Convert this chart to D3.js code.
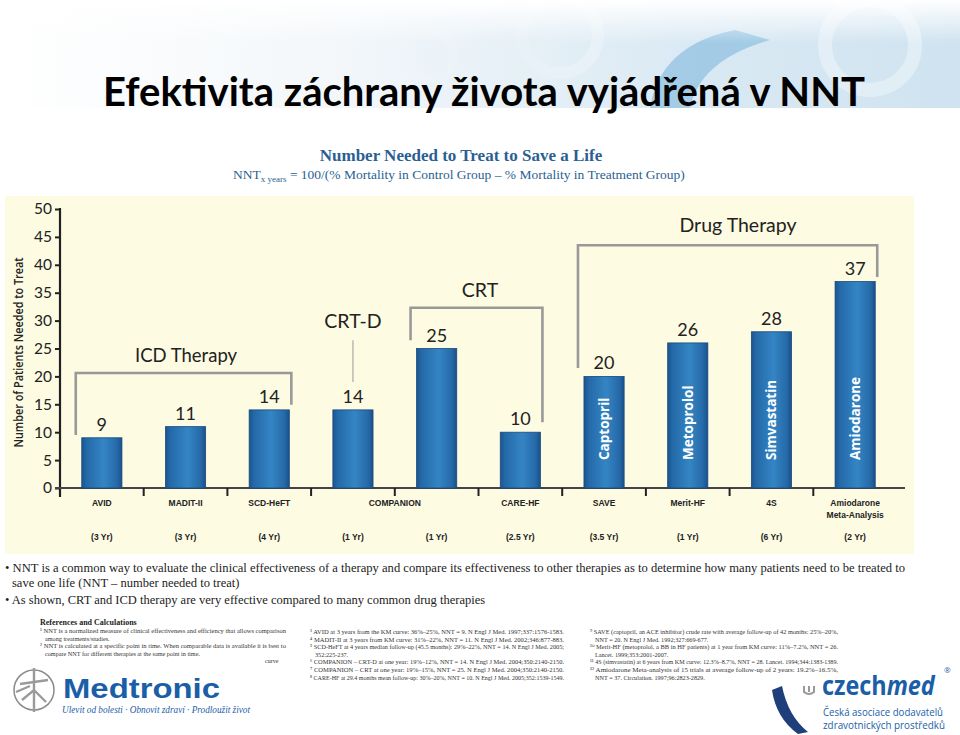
<!DOCTYPE html>
<html>
<head>
<meta charset="utf-8">
<script src="https://cdn.jsdelivr.net/npm/d3@7/dist/d3.min.js"></script>
<style>
  html, body { margin: 0; padding: 0; background: #ffffff; }
  svg { display: block; }
</style>
</head>
<body>
<svg id="chart" width="960" height="735"></svg>
<script>
// ---------- DATA ----------
const categories = ["AVID", "MADIT-II", "SCD-HeFT", "COMPANION CRT-D", "COMPANION CRT", "CARE-HF", "SAVE", "Merit-HF", "4S", "Amiodarone Meta-Analysis"];
const nntValues = [9, 11, 14, 14, 25, 10, 20, 26, 28, 37];
const durations = ["(3 Yr)", "(3 Yr)", "(4 Yr)", "(1 Yr)", "(1 Yr)", "(2.5 Yr)", "(3.5 Yr)", "(1 Yr)", "(6 Yr)", "(2 Yr)"];
const drugNames = ["", "", "", "", "", "", "Captopril", "Metoprolol", "Simvastatin", "Amiodarone"];
const yTicks = [0, 5, 10, 15, 20, 25, 30, 35, 40, 45, 50];
// axis labels: text lines and the category indexes they sit under
const xLabelTexts = [["AVID"], ["MADIT-II"], ["SCD-HeFT"], ["COMPANION"], ["CARE-HF"], ["SAVE"], ["Merit-HF"], ["4S"], ["Amiodarone", "Meta-Analysis"]];
const xLabelSpans = [[0], [1], [2], [3, 4], [5], [6], [7], [8], [9]];
// bracket groups (first index, last index, label)
const groupLabels = ["ICD Therapy", "CRT", "Drug Therapy"];
const groupSpans = [[0, 2], [4, 5], [6, 9]];
// bracket heights in NNT units: top, left foot, right foot, label baseline
const groupLevels = [[20.6, 9.5, 14.9, 22.6], [32.3, 26.5, 11.8, 34.2], [43.5, 21.5, 37.8, 45.9]];
const crtdLabel = "CRT-D";
const crtdLevels = [19, 26.5, 28.7];

const titleText = "Efektivita záchrany života vyjádřená v NNT";
const subtitleText = "Number Needed to Treat to Save a Life";
const yAxisTitle = "Number of Patients Needed to Treat";
const bulletLines = [
  "• NNT is a common way to evaluate the clinical effectiveness of a therapy and compare its effectiveness to other therapies as to determine how many patients need to be treated to",
  "save one life (NNT – number needed to treat)",
  "• As shown, CRT and ICD therapy are very effective compared to many common drug therapies"
];
const refsLeft = [
  "¹ NNT is a normalized measure of clinical effectiveness and efficiency that allows comparison",
  "  among treatments/studies.",
  "² NNT is calculated at a specific point in time. When comparable data is available it is best to",
  "  compare NNT for different therapies at the same point in time."
];
const refsMid = [
  "³ AVID at 3 years from the KM curve: 36%–25%, NNT = 9. N Engl J Med. 1997;337:1576-1583.",
  "⁴ MADIT-II at 3 years from KM curve: 31%–22%, NNT = 11. N Engl J Med. 2002;346:877-883.",
  "⁵ SCD-HeFT at 4 years median follow-up (45.5 months): 29%–22%, NNT = 14. N Engl J Med. 2005;",
  "  352:225-237.",
  "⁶ COMPANION – CRT-D at one year: 19%–12%, NNT = 14. N Engl J Med. 2004;350:2140-2150.",
  "⁷ COMPANION – CRT at one year: 19%–15%, NNT = 25. N Engl J Med. 2004;350:2140-2150.",
  "⁸ CARE-HF at 29.4 months mean follow-up: 30%–20%, NNT = 10. N Engl J Med. 2005;352:1539-1549."
];
const refsRight = [
  "⁹ SAVE (captopril, an ACE inhibitor) crude rate with average follow-up of 42 months: 25%–20%,",
  "  NNT = 20. N Engl J Med. 1992;327:669-677.",
  "¹⁰ Merit-HF (metoprolol, a BB in HF patients) at 1 year from KM curve: 11%–7.2%, NNT = 26.",
  "  Lancet. 1999;353:2001-2007.",
  "¹¹ 4S (simvastatin) at 6 years from KM curve: 12.3%–8.7%, NNT = 28. Lancet. 1994;344:1383-1389.",
  "¹² Amiodarone Meta-analysis of 15 trials at average follow-up of 2 years: 19.2%–16.5%,",
  "  NNT = 37. Circulation. 1997;96:2823-2829."
];

// ---------- SETUP ----------
const svg = d3.select("#chart");
const defs = svg.append("defs");

const hdr = defs.append("linearGradient").attr("id", "hdr").attr("x1", 0).attr("x2", 1).attr("y1", 0).attr("y2", 0);
hdr.append("stop").attr("offset", "0%").attr("stop-color", "#ffffff");
hdr.append("stop").attr("offset", "35%").attr("stop-color", "#f3f7fa");
hdr.append("stop").attr("offset", "70%").attr("stop-color", "#dbeaf4");
hdr.append("stop").attr("offset", "100%").attr("stop-color", "#cfe3f0");
const hdrV = defs.append("linearGradient").attr("id", "hdrV").attr("x1", 0).attr("x2", 0).attr("y1", 0).attr("y2", 1);
hdrV.append("stop").attr("offset", "0%").attr("stop-color", "#ffffff").attr("stop-opacity", 1);
hdrV.append("stop").attr("offset", "40%").attr("stop-color", "#ffffff").attr("stop-opacity", 0);

const barGrad = defs.append("linearGradient").attr("id", "barGrad").attr("x1", 0).attr("x2", 1).attr("y1", 0).attr("y2", 0);
[["0%", "#1b5490"], ["12%", "#2469a8"], ["55%", "#3485c4"], ["88%", "#2669a8"], ["100%", "#1a5089"]]
  .forEach(([o, c]) => barGrad.append("stop").attr("offset", o).attr("stop-color", c));

// header band
svg.append("rect").attr("x", 0).attr("y", 0).attr("width", 960).attr("height", 108).attr("fill", "url(#hdr)");
const deco = svg.append("g").attr("fill", "none");
deco.append("path").attr("d", "M650,108 Q660,45 735,30 L770,40 Q700,60 690,108 Z").attr("fill", "#7fb8dc").attr("opacity", 0.6);
deco.append("circle").attr("cx", 560).attr("cy", 35).attr("r", 38).attr("stroke", "#e8f1f7").attr("stroke-width", 12).attr("opacity", 0.8);
deco.append("circle").attr("cx", 870).attr("cy", 45).attr("r", 45).attr("stroke", "#e6f0f7").attr("stroke-width", 14).attr("opacity", 0.8);
deco.append("circle").attr("cx", 430).attr("cy", 55).attr("r", 24).attr("stroke", "#eef4f8").attr("stroke-width", 9).attr("opacity", 0.8);
svg.append("rect").attr("x", 0).attr("y", 0).attr("width", 960).attr("height", 108).attr("fill", "url(#hdrV)");

svg.append("text").attr("x", 484).attr("y", 106).attr("text-anchor", "middle")
  .attr("font-family", "Lato, 'Open Sans', sans-serif").attr("font-weight", "bold").attr("font-size", 40)
  .attr("textLength", 762).attr("lengthAdjust", "spacingAndGlyphs")
  .attr("fill", "#000").text(titleText);

// subtitle
svg.append("text").attr("x", 461).attr("y", 161).attr("text-anchor", "middle")
  .attr("font-family", "'Liberation Serif', 'DejaVu Serif', serif").attr("font-weight", "bold").attr("font-size", 17)
  .attr("fill", "#2b5f93").text(subtitleText);
const formula = svg.append("text").attr("x", 233).attr("y", 179)
  .attr("font-family", "'Liberation Serif', 'DejaVu Serif', serif").attr("font-size", 13.5).attr("fill", "#2b5f93");
formula.append("tspan").text("NNT");
formula.append("tspan").attr("font-size", 9).attr("dy", 3).text("x years");
formula.append("tspan").attr("dy", -3).text(" = 100/(% Mortality in Control Group – % Mortality in Treatment Group)");

// chart panel
svg.append("rect").attr("x", 5).attr("y", 196).attr("width", 909).attr("height", 358).attr("fill", "#fdfbe2");

// scales
const y = d3.scaleLinear().domain([0, 50]).range([488, 209]);
const x = d3.scaleBand().domain(categories).range([60, 897]).paddingInner(0.52).paddingOuter(0.26);
const bw = x.bandwidth();
const cx = i => x(categories[i]) + bw / 2;

// y axis
const yAxis = svg.append("g").attr("transform", "translate(60,0)")
  .call(d3.axisLeft(y).tickValues(yTicks).tickSize(5).tickPadding(3));
yAxis.select(".domain").remove();
yAxis.selectAll(".tick line").attr("stroke", "#222").attr("stroke-width", 2);
yAxis.selectAll(".tick text").attr("font-family", "Lato, 'Open Sans', sans-serif").attr("font-size", 15.5).attr("fill", "#222");
svg.append("line").attr("x1", 60).attr("x2", 60).attr("y1", y(50) - 1).attr("y2", 497).attr("stroke", "#222").attr("stroke-width", 2.2);

// x axis
svg.append("line").attr("x1", 55).attr("x2", 905).attr("y1", y(0)).attr("y2", y(0)).attr("stroke", "#444").attr("stroke-width", 2);
const boundaries = categories.slice(1).map(c => x(c) - (x.step() - bw) / 2);
svg.append("g").selectAll("line").data(boundaries).join("line")
  .attr("x1", d => d).attr("x2", d => d).attr("y1", y(0)).attr("y2", y(0) + 8)
  .attr("stroke", "#222").attr("stroke-width", 2);

// y title
svg.append("text").attr("transform", `translate(23,${(y(50) + y(0)) / 2 + 4}) rotate(-90)`).attr("text-anchor", "middle")
  .attr("font-family", "'Open Sans', Lato, sans-serif").attr("font-weight", 600).attr("font-size", 12.5)
  .attr("textLength", 190).attr("lengthAdjust", "spacingAndGlyphs")
  .attr("fill", "#222").text(yAxisTitle);

// bars
svg.append("g").selectAll("rect").data(nntValues).join("rect")
  .attr("x", (d, i) => x(categories[i])).attr("y", d => y(d))
  .attr("width", bw).attr("height", d => y(0) - y(d))
  .attr("fill", "url(#barGrad)").attr("stroke", "#1a4a7e").attr("stroke-width", 0.8);

// value labels
svg.append("g").selectAll("text").data(nntValues).join("text")
  .attr("x", (d, i) => cx(i)).attr("y", d => y(d) - 7).attr("text-anchor", "middle")
  .attr("font-family", "Lato, 'Open Sans', sans-serif").attr("font-size", 18).attr("fill", "#222")
  .text(d => d);

// drug names in bars
svg.append("g").selectAll("text").data(drugNames.map((n, i) => ({ n, i })).filter(d => d.n)).join("text")
  .attr("transform", d => `translate(${cx(d.i) + 5},${y(0) - 28}) rotate(-90)`)
  .attr("font-family", "'Open Sans', Lato, sans-serif").attr("font-weight", "bold").attr("font-size", 13.5)
  .attr("fill", "#ffffff").text(d => d.n);

// category labels
const catG = svg.append("g").attr("font-family", "'Liberation Sans Narrow', 'Liberation Sans', sans-serif")
  .attr("font-weight", "bold").attr("font-size", 8.5).attr("fill", "#222").attr("text-anchor", "middle");
xLabelTexts.forEach((lines, k) => {
  const idx = xLabelSpans[k];
  const px = d3.mean(idx, i => cx(i));
  lines.forEach((t, j) => {
    catG.append("text").attr("x", px).attr("y", 506 + j * 12).text(t);
  });
});
const durG = svg.append("g").attr("font-family", "'Liberation Sans Narrow', 'Liberation Sans', sans-serif")
  .attr("font-weight", "bold").attr("font-size", 8.5).attr("fill", "#222").attr("text-anchor", "middle");
durations.forEach((t, i) => durG.append("text").attr("x", cx(i)).attr("y", 540).text(t));

// brackets
const brG = svg.append("g");
groupLabels.forEach((lab, k) => {
  const [a, b] = groupSpans[k];
  const [top, lf, rf, lb] = groupLevels[k];
  const xl = x(categories[a]) - 6;
  const xr = x(categories[b]) + bw + 2;
  brG.append("path")
    .attr("d", `M${xl},${y(lf)}V${y(top)}H${xr}V${y(rf)}`)
    .attr("fill", "none").attr("stroke", "#999").attr("stroke-width", 2.6);
  brG.append("text").attr("x", k === 2 ? 738 : (k === 0 ? 186 : 480)).attr("y", y(lb)).attr("text-anchor", "middle")
    .attr("font-family", "Lato, 'Open Sans', sans-serif").attr("font-size", k === 0 ? 18.5 : 19.5).attr("fill", "#222")
    .text(lab);
});
brG.append("line").attr("x1", cx(3)).attr("x2", cx(3)).attr("y1", y(crtdLevels[0])).attr("y2", y(crtdLevels[1]))
  .attr("stroke", "#aaa").attr("stroke-width", 1.2);
brG.append("text").attr("x", cx(3)).attr("y", y(crtdLevels[2])).attr("text-anchor", "middle")
  .attr("font-family", "Lato, 'Open Sans', sans-serif").attr("font-size", 19.5).attr("fill", "#222").text(crtdLabel);

// bullets
const bulG = svg.append("g").attr("font-family", "'Liberation Serif', 'DejaVu Serif', serif").attr("font-size", 12.5).attr("fill", "#222");
bulG.append("text").attr("x", 5).attr("y", 572).attr("textLength", 900).attr("lengthAdjust", "spacingAndGlyphs").text(bulletLines[0]);
bulG.append("text").attr("x", 12).attr("y", 587).text(bulletLines[1]);
bulG.append("text").attr("x", 5).attr("y", 604).text(bulletLines[2]);

// references
const refG = svg.append("g").attr("font-family", "'Liberation Serif', 'DejaVu Serif', serif").attr("fill", "#333");
refG.append("text").attr("x", 40).attr("y", 625).attr("font-size", 8).attr("font-weight", "bold").attr("fill", "#222").text("References and Calculations");
const refBlock = (lines, x0, y0, w) => lines.forEach((t, i) => {
  const cont = t.startsWith("  ");
  const tx = refG.append("text").attr("x", x0 + (cont ? 5 : 0)).attr("y", y0 + i * 7.6).attr("font-size", 6.2).text(t.trim());
  if (!cont && t.length > 80) tx.attr("textLength", w).attr("lengthAdjust", "spacingAndGlyphs");
});
refBlock(refsLeft, 40, 633, 246);
refBlock(refsMid, 310, 634, 254);
refBlock(refsRight, 590, 634, 248);
refG.append("text").attr("x", 265).attr("y", 663).attr("font-size", 6).text("curve");

// Medtronic logo
const med = svg.append("g");
med.append("circle").attr("cx", 34).attr("cy", 690).attr("r", 20).attr("fill", "none").attr("stroke", "#8a8a8a").attr("stroke-width", 1.5);
med.append("path").attr("d", "M34,668 V712 M20,684 L48,680 M22,700 L34,690 L46,702 M16,692 L30,686")
  .attr("fill", "none").attr("stroke", "#9a9a9a").attr("stroke-width", 2.4);
med.append("text").attr("x", 63).attr("y", 698).attr("font-family", "'Liberation Sans', Arial, sans-serif")
  .attr("font-weight", "bold").attr("font-size", 27).attr("textLength", 157).attr("lengthAdjust", "spacingAndGlyphs")
  .attr("fill", "#1b5ea8").text("Medtronic");
med.append("text").attr("x", 62).attr("y", 713).attr("font-family", "'Liberation Serif', serif").attr("font-style", "italic")
  .attr("font-size", 10).attr("textLength", 188).attr("lengthAdjust", "spacingAndGlyphs")
  .attr("fill", "#1b5ea8").text("Ulevit od bolesti · Obnovit zdraví · Prodloužit život");

// Czechmed logo
const cz = svg.append("g");
cz.append("path").attr("d", "M782,686 Q788,716 808,732 L798,734 Q776,718 772,690 Z").attr("fill", "#1e3f7a");
cz.append("path").attr("d", "M804,686 v6 q5,4 10,0 v-6 M809,686 v6").attr("fill", "none").attr("stroke", "#999").attr("stroke-width", 2);
const czt = cz.append("text").attr("transform", "translate(822,695) scale(0.9,1)")
  .attr("font-family", "'Open Sans', 'Liberation Sans', sans-serif")
  .attr("font-weight", "bold").attr("font-size", 26).attr("fill", "#1b5ea8");
czt.append("tspan").text("czech");
czt.append("tspan").attr("font-style", "italic").text("med");
cz.append("text").attr("x", 944).attr("y", 673).attr("font-family", "'Open Sans', sans-serif").attr("font-size", 8).attr("fill", "#1b5ea8").text("®");
cz.append("text").attr("x", 823).attr("y", 716).attr("font-family", "'Open Sans', sans-serif").attr("font-size", 10.5)
  .attr("textLength", 120).attr("lengthAdjust", "spacingAndGlyphs").attr("fill", "#1b5ea8").text("Česká asociace dodavatelů");
cz.append("text").attr("x", 823).attr("y", 729).attr("font-family", "'Open Sans', sans-serif").attr("font-size", 10.5)
  .attr("textLength", 122).attr("lengthAdjust", "spacingAndGlyphs").attr("fill", "#1b5ea8").text("zdravotnických prostředků");
</script>
</body>
</html>
